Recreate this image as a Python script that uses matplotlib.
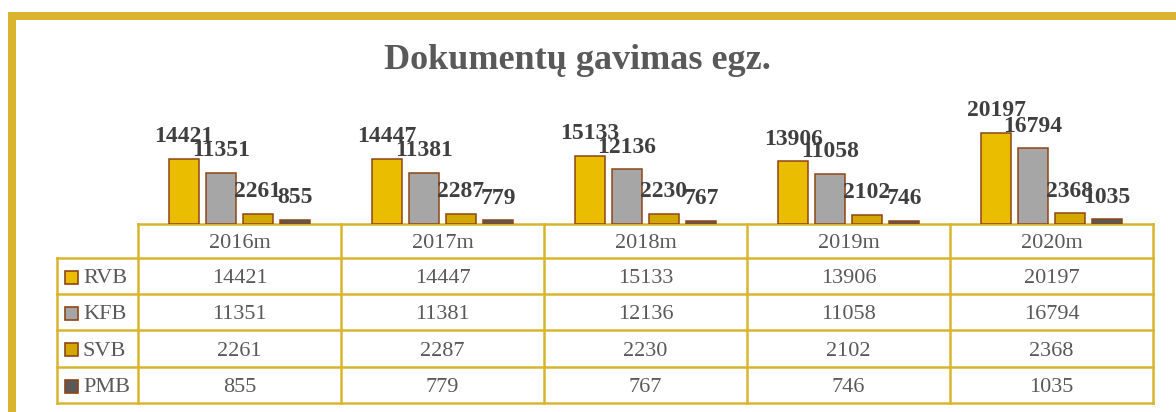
import matplotlib
matplotlib.use("Agg")
import matplotlib.pyplot as plt
from matplotlib.patches import Rectangle

# ---- data ----
years = ["2016m", "2017m", "2018m", "2019m", "2020m"]
series_names = ["RVB", "KFB", "SVB", "PMB"]
RVB = [14421, 14447, 15133, 13906, 20197]
KFB = [11351, 11381, 12136, 11058, 16794]
SVB = [2261, 2287, 2230, 2102, 2368]
PMB = [855, 779, 767, 746, 1035]
series_values = [RVB, KFB, SVB, PMB]
title = "Dokumentų gavimas egz."

# ---- style ----
colors = ["#EBBD00", "#A6A6A6", "#D2A800", "#595959"]
edge = "#8E4516"
gold = "#D9B52F"
textc = "#595959"
labelc = "#3F3F3F"
serif = ["Liberation Serif", "DejaVu Serif"]

W, H = 1176, 412
fig = plt.figure(figsize=(W / 100, H / 100), dpi=100)
fig.patch.set_facecolor("white")

# overlay axes in pixel coordinates
ov = fig.add_axes([0, 0, 1, 1])
ov.set_xlim(0, W)
ov.set_ylim(H, 0)
ov.axis("off")

# frame
ov.add_patch(Rectangle((8, 12), 8, H - 12, color=gold, lw=0))
ov.add_patch(Rectangle((8, 12), W - 8, 8, color=gold, lw=0))

# title
ov.text(577, 69, title, ha="center", va="baseline", fontsize=26,
        fontweight="bold", color=textc, family=serif)

# ---- bar axes ----
x0, x1 = 138, 1153
ybase, ytop = 224, 100
px_per_unit = 0.0045  # pixels per value
axb = fig.add_axes([x0 / W, (H - ybase) / H, (x1 - x0) / W, (ybase - ytop) / H])
axb.set_xlim(-0.5, len(years) - 0.5)
axb.set_ylim(0, (ybase - ytop) / px_per_unit)
axb.axis("off")
axb.patch.set_alpha(0)

n = len(series_names)
step = 0.182
bw = 0.148
for i, (vals, c) in enumerate(zip(series_values, colors)):
    off = (i - (n - 1) / 2) * step
    xs = [k + off for k in range(len(years))]
    bars = axb.bar(xs, vals, width=bw, color=c, edgecolor=edge, linewidth=1.1, zorder=2)
    for b, v in zip(bars, vals):
        axb.annotate(str(v), (b.get_x() + b.get_width() / 2, v), xytext=(0, 8.5),
                     textcoords="offset points", ha="center", va="bottom",
                     fontsize=17, fontweight="bold", color=labelc, family=serif,
                     annotation_clip=False)

# ---- data table ----
col_edges = [138 + k * 203 for k in range(len(years) + 1)]
col_edges[-1] = 1153
row_edges = [224, 258, 294, 330, 367, 403]
lab_left = 57
lw = 1.8

# horizontal lines
ov.plot([col_edges[0], col_edges[-1]], [row_edges[0]] * 2, color=gold, lw=lw, zorder=5)
for y in row_edges[1:]:
    ov.plot([lab_left, col_edges[-1]], [y, y], color=gold, lw=lw, zorder=5)
# vertical lines
for x in col_edges:
    ov.plot([x, x], [row_edges[0], row_edges[-1]], color=gold, lw=lw, zorder=5)
ov.plot([lab_left, lab_left], [row_edges[1], row_edges[-1]], color=gold, lw=lw, zorder=5)

# header
for k, yr in enumerate(years):
    cx = (col_edges[k] + col_edges[k + 1]) / 2
    cy = (row_edges[0] + row_edges[1]) / 2
    ov.text(cx, cy + 7, yr, ha="center", va="baseline", fontsize=16,
            color=textc, family=serif)

# rows
for r, (name, vals, c) in enumerate(zip(series_names, series_values, colors)):
    cy = (row_edges[r + 1] + row_edges[r + 2]) / 2
    ov.add_patch(Rectangle((65, cy - 5.5), 13, 13, facecolor=c, edgecolor=edge,
                           lw=1.2, zorder=6))
    ov.text(83, cy + 7, name, ha="left", va="baseline", fontsize=16,
            color=textc, family=serif)
    for k, v in enumerate(vals):
        cx = (col_edges[k] + col_edges[k + 1]) / 2
        ov.text(cx, cy + 7, str(v), ha="center", va="baseline", fontsize=16,
                color=textc, family=serif)

fig.savefig("out.png", dpi=100, facecolor="white")
